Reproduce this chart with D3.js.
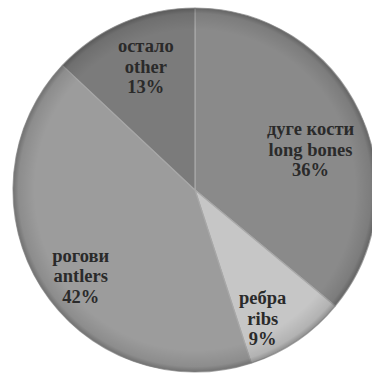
<!DOCTYPE html>
<html>
<head>
<meta charset="utf-8">
<script src="https://cdn.jsdelivr.net/npm/d3@7"></script>
<style>
  html, body { margin: 0; padding: 0; background: #fff; }
  svg { display: block; }
  .lbl { font-family: "Liberation Serif", "Times New Roman", serif; font-weight: 700; }
</style>
</head>
<body>
<svg id="chart" width="372" height="376"></svg>
<script>
// Bone material categories (Serbian / English) and their shares in percent
const labelsSr = ["дуге кости", "ребра", "рогови", "остало"];
const labelsEn = ["long bones", "ribs", "antlers", "other"];
const shares = [36, 9, 42, 13];

// Slice fills, greyscale
const fills = ["#8a8a8a", "#c6c6c6", "#9c9c9c", "#7b7b7b"];
// Small label adjustments relative to the arc centroid (px)
const labelNudge = [[-8, 18], [-9, 16], [1, 13], [5, 2]];

const svg = d3.select("#chart");
const cx = 195, cy = 190, r = 182;

const data = shares.map((v, i) => ({ sr: labelsSr[i], en: labelsEn[i], value: v, i }));

const pie = d3.pie().value(d => d.value).sort(null);
const arcs = pie(data);
const arc = d3.arc().innerRadius(0).outerRadius(r);
const labelArc = d3.arc().innerRadius(r * 0.75).outerRadius(r * 0.75);

const defs = svg.append("defs");
const rim = defs.append("radialGradient")
  .attr("id", "rim")
  .attr("gradientUnits", "userSpaceOnUse")
  .attr("cx", cx).attr("cy", cy).attr("r", r);
rim.append("stop").attr("offset", "0.88").attr("stop-color", "#000").attr("stop-opacity", 0);
rim.append("stop").attr("offset", "0.97").attr("stop-color", "#000").attr("stop-opacity", 0.10);
rim.append("stop").attr("offset", "1").attr("stop-color", "#000").attr("stop-opacity", 0.28);

const g = svg.append("g").attr("transform", `translate(${cx},${cy})`);

g.selectAll("path.slice")
  .data(arcs)
  .join("path")
  .attr("class", "slice")
  .attr("d", arc)
  .attr("fill", d => fills[d.data.i])
  .attr("stroke", "#a8a8a8")
  .attr("stroke-width", 1.2)
  .attr("stroke-linejoin", "round");

// soft darkening toward the rim
svg.append("circle")
  .attr("cx", cx).attr("cy", cy)
  .attr("r", r)
  .attr("fill", "url(#rim)");

const labels = svg.selectAll("text.lbl")
  .data(arcs)
  .join("text")
  .attr("class", "lbl")
  .attr("transform", d => {
    const [x, y] = labelArc.centroid(d);
    const n = labelNudge[d.data.i];
    return `translate(${cx + x + n[0]},${cy + y + n[1]})`;
  })
  .attr("text-anchor", "middle")
  .attr("font-size", 18.5)
  .attr("fill", "#2a2a2a");

labels.each(function(d) {
  const t = d3.select(this);
  const lines = [d.data.sr, d.data.en, d.data.value + "%"];
  lines.forEach((s, k) => {
    t.append("tspan")
      .attr("x", 0)
      .attr("y", (k - 1) * 20.5 + 6)
      .text(s);
  });
});
</script>
</body>
</html>
